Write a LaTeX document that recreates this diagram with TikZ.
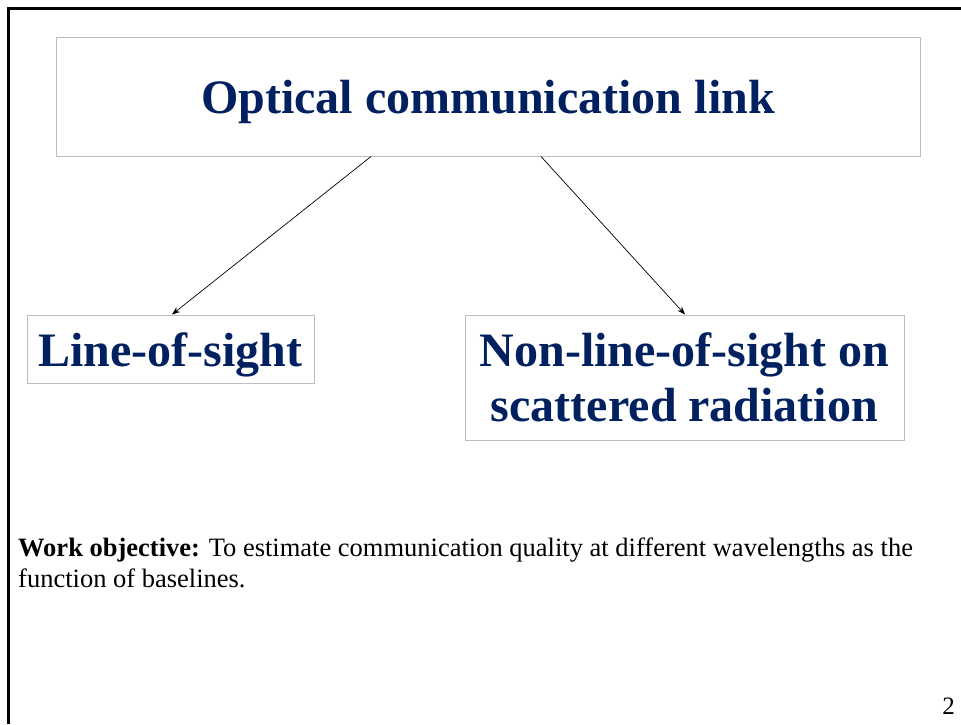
\documentclass[tikz,border=0pt]{standalone}
\usepackage{fontspec}
\setmainfont{Liberation Serif}
\usetikzlibrary{arrows.meta}
\definecolor{navy}{RGB}{0,32,96}
\definecolor{boxgray}{RGB}{190,190,190}
\tikzset{
  box/.style={draw=boxgray, line width=1pt, inner sep=0pt, align=center,
              text=navy, font=\fontsize{48}{55}\selectfont\bfseries},
  oneline/.style={text height=34pt, text depth=0pt},
  link/.style={-{Stealth[length=8pt,width=6pt]}, line width=0.7pt}
}
\begin{document}
\begin{tikzpicture}[x=1pt,y=-1pt]
  \useasboundingbox (0,0) rectangle (961,724);
  % slide frame, only top and left edges show
  \draw[line width=3pt] (8.5,724) -- (8.5,8.5) -- (961,8.5);

  \node[box, oneline, minimum width=864pt, minimum height=119pt] (link) at (488,96.5)
       {Optical communication link};
  \node[box, oneline, minimum width=287pt, minimum height=68pt] (los) at (170.5,349)
       {Line-of-sight};
  \node[box, minimum width=439pt, minimum height=125pt] (nlos) at (684.5,377.5)
       {Non-line-of-sight on\\scattered radiation};

  \draw[link] ([xshift=-117pt]link.south) -- ([xshift=1.5pt]los.north);
  \draw[link] ([xshift=53pt]link.south) -- ([xshift=0.5pt]nlos.north);

  \node[anchor=base west, align=left, inner sep=0pt,
        font=\fontsize{26.5}{31}\selectfont] (goal) at (18,587)
       {\textbf{Work objective:} To estimate communication quality at different wavelengths as the\\
        function of baselines.};
  \node[anchor=base east, inner sep=0pt, font=\fontsize{25}{30}\selectfont] (page) at (955,714) {2};
\end{tikzpicture}
\end{document}
